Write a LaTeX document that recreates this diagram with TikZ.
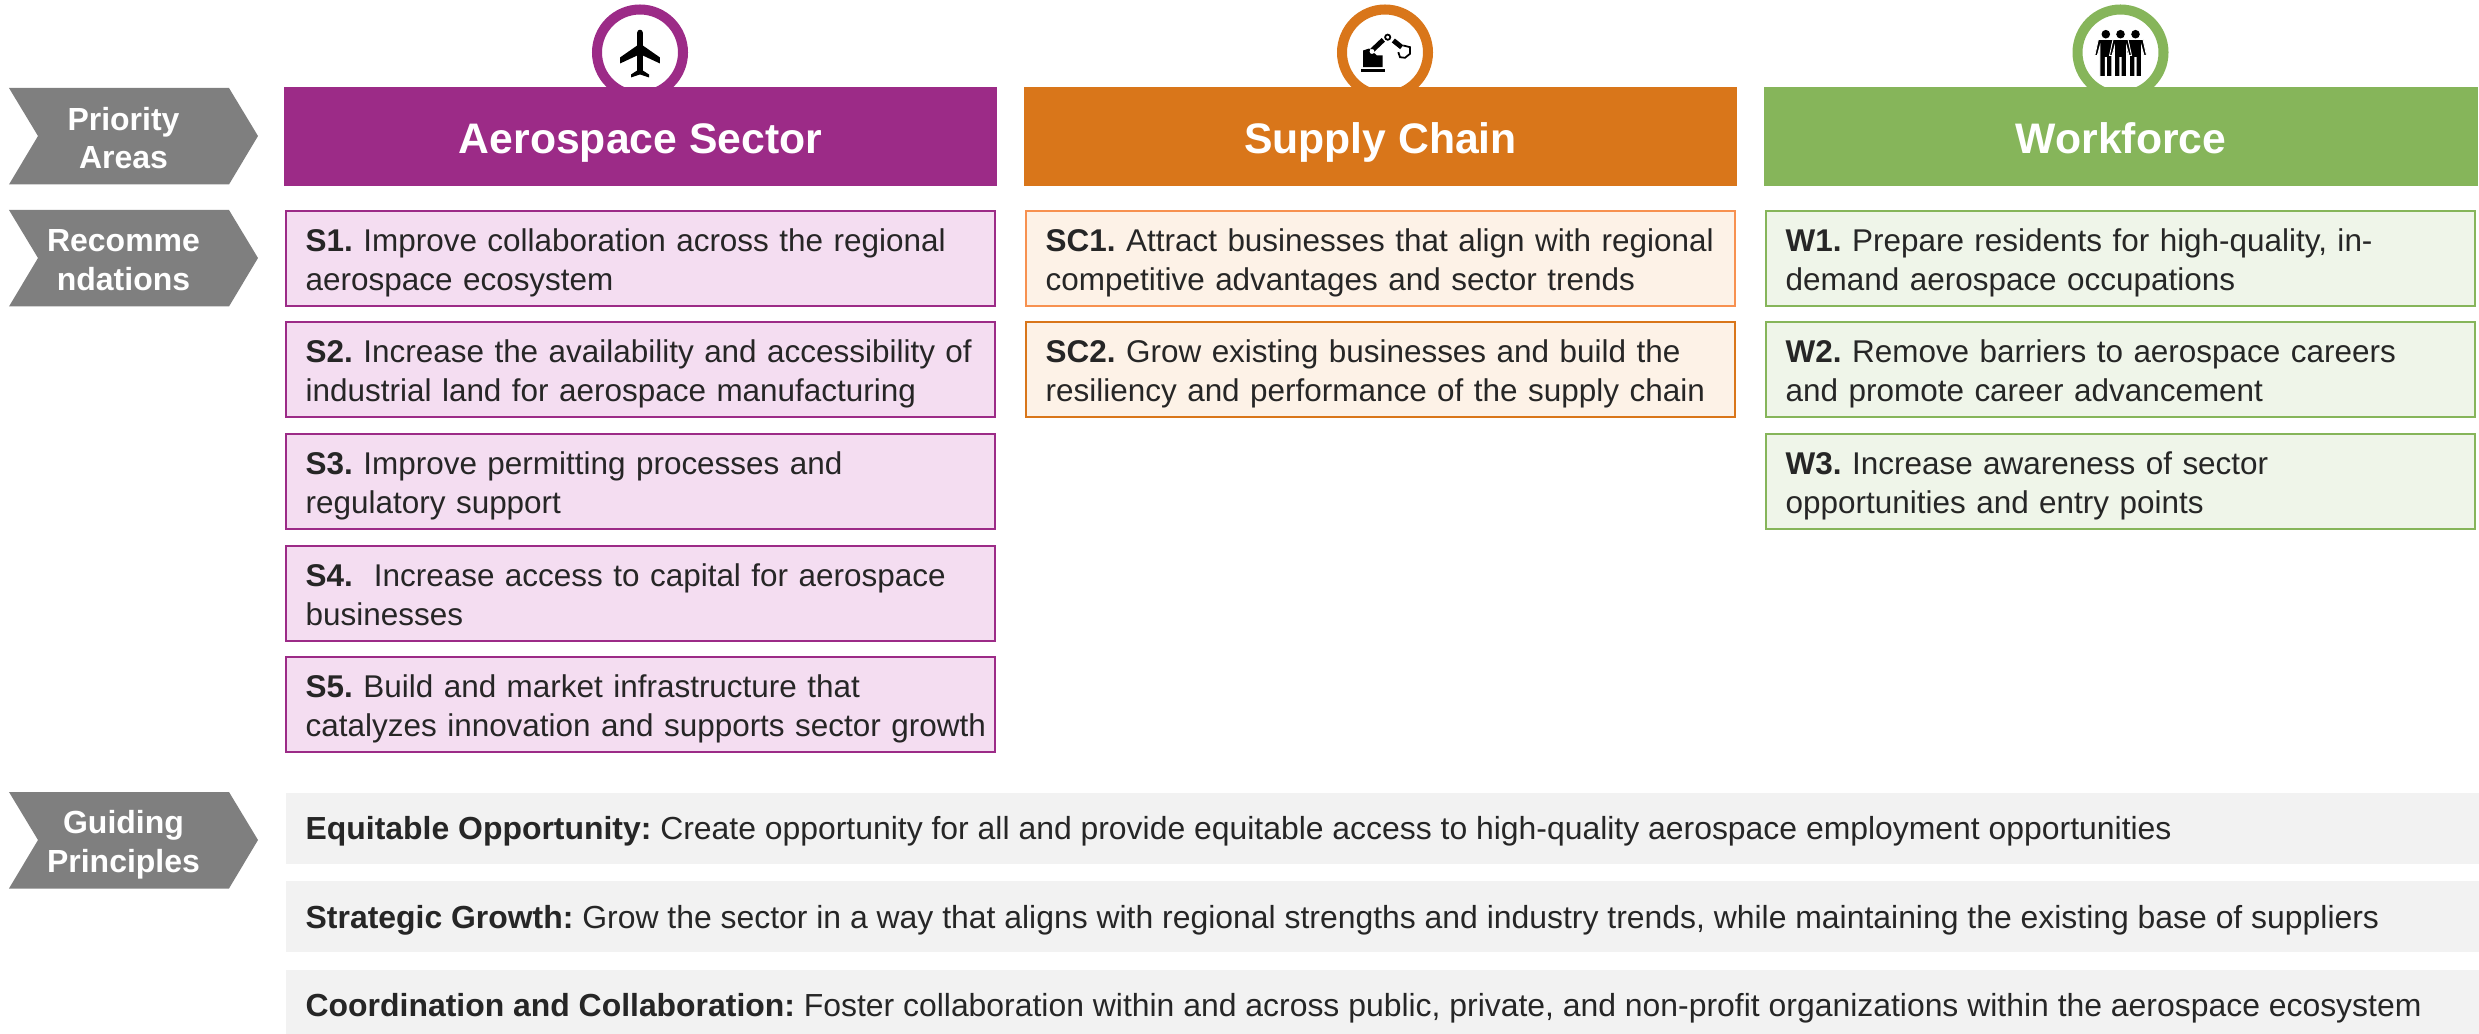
\documentclass[tikz,border=0pt]{standalone}
\usepackage{fontspec}
\setmainfont{Liberation Sans}
\usetikzlibrary{positioning,calc}
\frenchspacing

\definecolor{aerocol}{HTML}{9C2B87}
\definecolor{aerofill}{HTML}{F4DDF1}
\definecolor{supplycol}{HTML}{D9761A}
\definecolor{supplylight}{HTML}{F79150}
\definecolor{supplyfill}{HTML}{FDF2E7}
\definecolor{workcol}{HTML}{86B55A}
\definecolor{workfill}{HTML}{EFF5E9}
\definecolor{tagcol}{HTML}{7F7F7F}
\definecolor{guidefill}{HTML}{F2F2F2}
\definecolor{inkcol}{HTML}{262626}

\tikzset{
  headbox/.style={minimum width=7.13cm, inner sep=0pt, text=white, text height=0.31cm, text depth=0.08cm,
    font=\fontsize{12.15}{14}\selectfont\bfseries},
  recbox/.style={draw, line width=0.7pt, minimum width=7.09cm, minimum height=0.95cm, inner sep=0pt,
    anchor=north west, text=inkcol},
  rectext/.style={anchor=north west, inner sep=0pt, text=inkcol, align=left, text width=7.1cm,
    font=\fontsize{8.95}{11}\selectfont},
  guidebox/.style={fill=guidefill, minimum height=0.71cm, minimum width=21.94cm, inner sep=0pt, anchor=north west},
  guidetext/.style={anchor=west, inner sep=0pt, text=inkcol, font=\fontsize{9.08}{11}\selectfont},
  tagtext/.style={text=white, align=center, inner sep=0pt, font=\fontsize{9.1}{11}\selectfont\bfseries},
  ringnode/.style={circle, fill=white, line width=2.85pt, minimum size=0.86cm, inner sep=0pt}
}

% chevron with its upper left corner at #1
\newcommand{\tagshape}[1]{
  \fill[tagcol] #1 -- ++(2.20,0) -- ++(0.29,-0.48) -- ++(-0.29,-0.485) -- ++(-2.20,0) -- ++(0.29,0.485) -- cycle;
}

\begin{document}
\begin{tikzpicture}
  \useasboundingbox (0,0) rectangle (24.79,-10.34);

  % left tags
  \tagshape{(0.09,-0.88)}
  \tagshape{(0.09,-2.10)}
  \tagshape{(0.09,-7.92)}
  \node[tagtext] (tagareas) at (1.235,-1.38) {Priority\\Areas};
  \node[tagtext] (tagrec) at (1.235,-2.60) {Recomme\\ndations};
  \node[tagtext] (tagguide) at (1.235,-8.445) {Guiding\\Principles};

  % rings sit behind the bars
  \node[ringnode, draw=aerocol] (ringaero) at (6.40,-0.525) {};
  \node[ringnode, draw=supplycol] (ringsupply) at (13.85,-0.525) {};
  \node[ringnode, draw=workcol] (ringwork) at (21.205,-0.525) {};

  % plane
  \begin{scope}[shift={(ringaero.center)}, scale=0.01]
    \fill[black] (-2.8,20) -- (-2.8,7) -- (-20,-5) -- (-20,-11) -- (-2.8,-3) -- (-2.8,-18)
      -- (-9,-22) -- (-9,-25) -- (0,-22) -- (9,-25) -- (9,-22) -- (2.8,-18) -- (2.8,-3)
      -- (20,-11) -- (20,-5) -- (2.8,7) -- (2.8,20) arc (0:180:2.8) -- cycle;
  \end{scope}

  % robot arm
  \begin{scope}[shift={(ringsupply.center)}, scale=0.01]
    \fill[black] (-24.3,-17) rectangle (-0.3,-20);
    \fill[black] (-22,-14.7) -- (-22,2) -- (-16,4) -- (-8,-3) -- (-2.3,-3) -- (-2.3,-14.7) -- cycle;
    \draw[black, line width=1.4pt] (-13,2) -- (-1.7,12.7);
    \fill[white] (-13,1) circle (2.4);
    \draw[black, line width=0.5pt] (2.7,15.3) circle (2.6);
    \draw[black, line width=1.4pt] (8.3,12) -- (16.7,5.3);
    \draw[black, line width=0.5pt] (18.3,7) -- (25,5.3) -- (25,-1.3) -- (20,-5.3) -- (15,-4.7) -- (13.3,0.3);
  \end{scope}

  % three people
  \begin{scope}[shift={(ringwork.center)}]
    \foreach \px in {-0.147, 0.15, 0}{
      \fill[black, shift={(\px,0)}, scale=0.01] (0,18.3) circle (4.3);
      \filldraw[black, draw=white, line width=0.25pt, shift={(\px,0)}, scale=0.01]
        (-7.5,13) -- (7.5,13) -- (11,-3) -- (8.5,-3) -- (6,6) -- (6,-24) -- (0.6,-24) -- (0.6,-5) -- (-0.6,-5)
        -- (-0.6,-24) -- (-6,-24) -- (-6,6) -- (-8.5,-3) -- (-11,-3) -- cycle;
    }
  \end{scope}

  % bars
  \fill[aerocol] (2.84,-0.87) rectangle (9.97,-1.86);
  \fill[supplycol] (10.24,-0.87) rectangle (17.37,-1.86);
  \fill[workcol] (17.64,-0.87) rectangle (24.78,-1.86);
  \node[headbox] (aero) at (6.405,-1.425) {Aerospace Sector};
  \node[headbox] (supply) at (13.805,-1.425) {Supply Chain};
  \node[headbox] (work) at (21.21,-1.425) {Workforce};

  % aerospace column
  \foreach \yy/\name in {2.10/s1, 3.21/s2, 4.33/s3, 5.45/s4, 6.56/s5}{
    \node[recbox, draw=aerocol, fill=aerofill] (\name) at (2.85,-\yy) {};
  }
  \node[rectext] (s1t) at (3.05,-2.28) {\textbf{S1.} Improve collaboration across the regional\\aerospace ecosystem};
  \node[rectext] (s2t) at (3.05,-3.39) {\textbf{S2.} Increase the availability and accessibility of\\industrial land for aerospace manufacturing};
  \node[rectext] (s3t) at (3.05,-4.51) {\textbf{S3.} Improve permitting processes and\\regulatory support};
  \node[rectext] (s4t) at (3.05,-5.63) {\textbf{S4.}\ \ Increase access to capital for aerospace\\businesses};
  \node[rectext] (s5t) at (3.05,-6.74) {\textbf{S5.} Build and market infrastructure that\\catalyzes innovation and supports sector growth};

  % supply chain column
  \node[recbox, draw=supplylight, fill=supplyfill] (sc1) at (10.25,-2.10) {};
  \node[recbox, draw=supplycol, fill=supplyfill] (sc2) at (10.25,-3.21) {};
  \node[rectext] (sc1t) at (10.45,-2.28) {\textbf{SC1.} Attract businesses that align with regional\\competitive advantages and sector trends};
  \node[rectext] (sc2t) at (10.45,-3.39) {\textbf{SC2.} Grow existing businesses and build the\\resiliency and performance of the supply chain};

  % workforce column
  \foreach \yy/\name in {2.10/w1, 3.21/w2, 4.33/w3}{
    \node[recbox, draw=workcol, fill=workfill] (\name) at (17.65,-\yy) {};
  }
  \node[rectext] (w1t) at (17.85,-2.28) {\textbf{W1.} Prepare residents for high-quality, in-\\demand aerospace occupations};
  \node[rectext] (w2t) at (17.85,-3.39) {\textbf{W2.} Remove barriers to aerospace careers\\and promote career advancement};
  \node[rectext] (w3t) at (17.85,-4.51) {\textbf{W3.} Increase awareness of sector\\opportunities and entry points};

  % guiding principles
  \node[guidebox] (g1) at (2.85,-7.92) {};
  \node[guidebox] (g2) at (2.85,-8.80) {};
  \node[guidebox, minimum height=0.65cm] (g3) at (2.85,-9.69) {};
  \node[guidetext] (g1t) at (3.05,-8.31) {\textbf{Equitable Opportunity:} Create opportunity for all and provide equitable access to high-quality aerospace employment opportunities};
  \node[guidetext] (g2t) at (3.05,-9.20) {\textbf{Strategic Growth:} Grow the sector in a way that aligns with regional strengths and industry trends, while maintaining the existing base of suppliers};
  \node[guidetext] (g3t) at (3.05,-10.08) {\textbf{Coordination and Collaboration:} Foster collaboration within and across public, private, and non-profit organizations within the aerospace ecosystem};
\end{tikzpicture}
\end{document}
